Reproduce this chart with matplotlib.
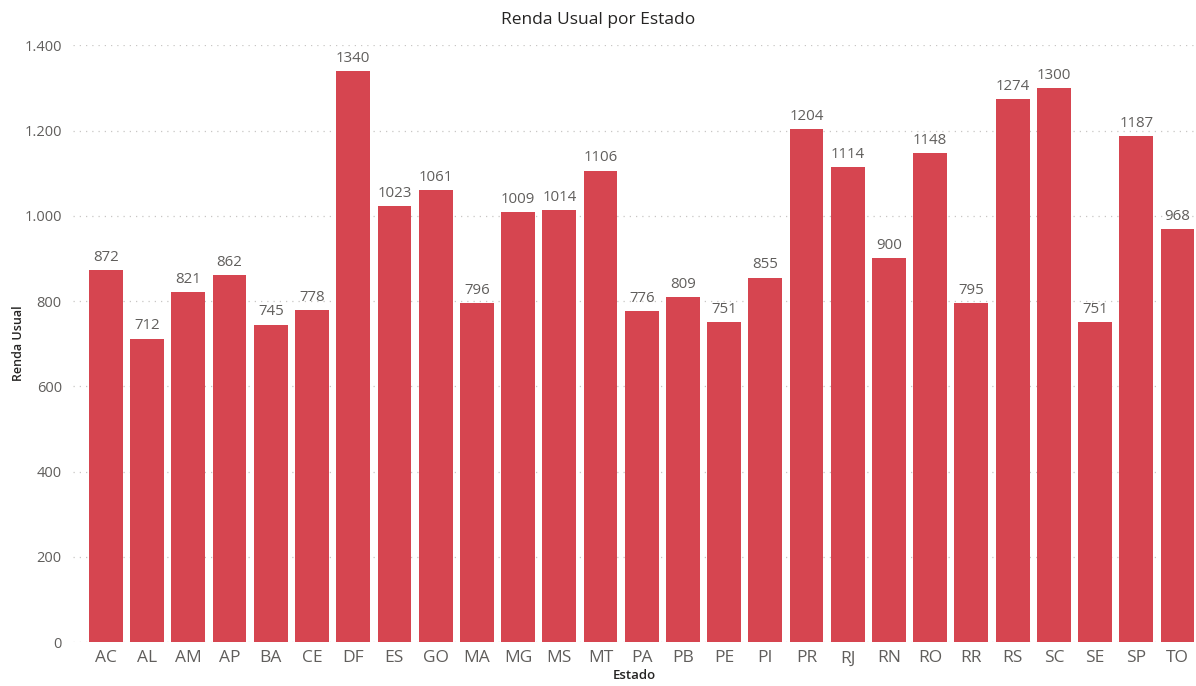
import matplotlib
matplotlib.use('Agg')
import matplotlib.pyplot as plt
from matplotlib.ticker import FuncFormatter

# dados
estados = ['AC', 'AL', 'AM', 'AP', 'BA', 'CE', 'DF', 'ES', 'GO', 'MA', 'MG', 'MS', 'MT', 'PA',
           'PB', 'PE', 'PI', 'PR', 'RJ', 'RN', 'RO', 'RR', 'RS', 'SC', 'SE', 'SP', 'TO']
renda = [872, 712, 821, 862, 745, 778, 1340, 1023, 1061, 796, 1009, 1014, 1106, 776,
         809, 751, 855, 1204, 1114, 900, 1148, 795, 1274, 1300, 751, 1187, 968]
yticks = [0, 200, 400, 600, 800, 1000, 1200, 1400]

plt.rcParams['font.family'] = ['Open Sans', 'DejaVu Sans']

fig = plt.figure(figsize=(11.96, 6.86), dpi=100)
ax = fig.add_axes([0.061, 0.064, 0.939, 0.870])

x = range(len(estados))
bars = ax.bar(x, renda, width=0.82, color='#D64550', zorder=3)

for xi, v in zip(x, renda):
    ax.text(xi, v + 12, str(v), ha='center', va='bottom', fontsize=10.8, color='#605E5C')

ax.set_xlim(-0.8, len(estados) - 0.55)
ax.set_ylim(0, 1400)
ax.set_yticks(yticks)
ax.yaxis.set_major_formatter(FuncFormatter(lambda v, p: '{:,.0f}'.format(v).replace(',', '.')))
ax.set_xticks(list(x))
ax.set_xticklabels(estados)

ax.grid(axis='y', linestyle=(0, (1, 4)), color='#C8C6C4', linewidth=0.9, zorder=0)
for s in ax.spines.values():
    s.set_visible(False)
ax.tick_params(axis='both', length=0)
ax.tick_params(axis='x', labelsize=12.5, colors='#605E5C', pad=6)
ax.tick_params(axis='y', labelsize=10.5, colors='#605E5C', pad=8)

ax.set_xlabel('Estado', fontsize=9.5, color='#252423', labelpad=2, fontweight='semibold')
ax.set_ylabel('Renda Usual', fontsize=9, color='#252423', fontweight='semibold')
ax.yaxis.set_label_coords(-0.043, 0.5)
fig.text(0.5, 0.971, 'Renda Usual por Estado', ha='center', va='center', fontsize=12.5, color='#252423')

fig.savefig('out.png', dpi=100)
